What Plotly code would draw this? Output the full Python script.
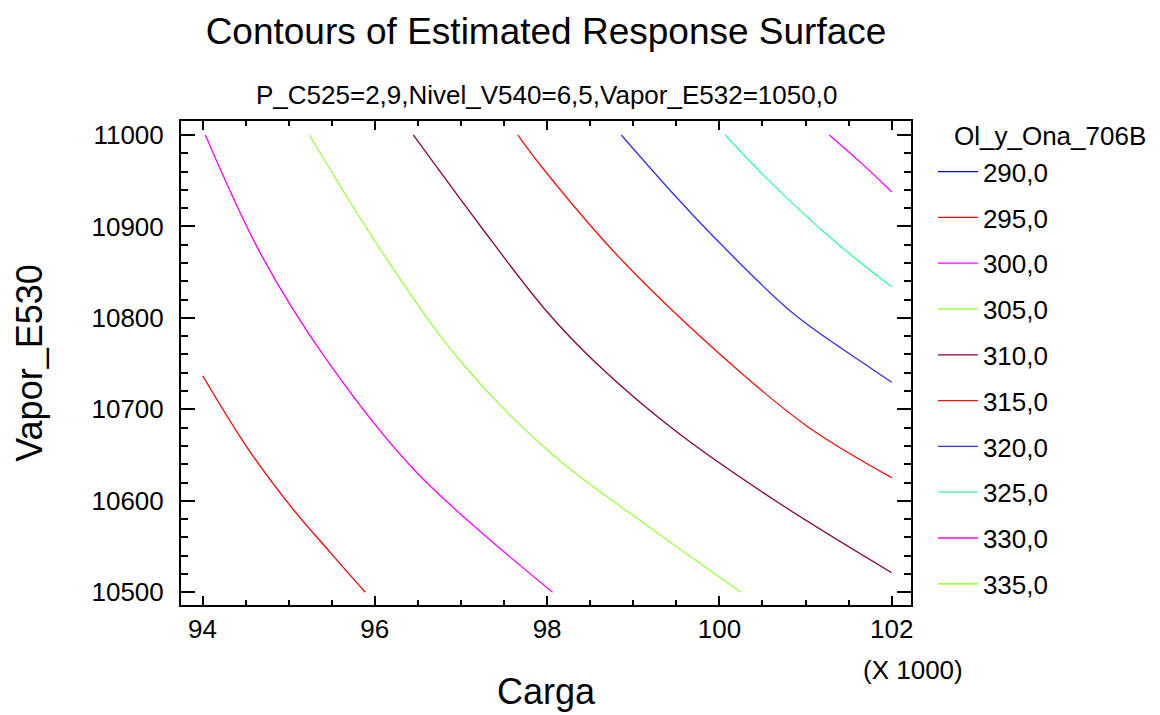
import plotly.graph_objects as go

# Contour levels and colours shown in the legend
levels = [290.0, 295.0, 300.0, 305.0, 310.0, 315.0, 320.0, 325.0, 330.0, 335.0]
level_colors = ["#0000FF", "#FF0000", "#FF00FF", "#99FF44", "#880044",
                "#FF1010", "#3030FF", "#33FF99", "#FF00FF", "#80FF00"]
legend_heading = "Ol_y_Ona_706B"

# Contour lines (Carga in thousands, Vapor_E530)
c295_x = [94.002, 94.525, 95.027, 95.492, 95.890]
c295_y = [10736.8, 10657.4, 10593.6, 10542.6, 10500.0]

c300_x = [94.033, 94.679, 95.442, 96.459, 98.065]
c300_y = [11000.0, 10869.5, 10754.0, 10633.7, 10500.0]

c305_x = [95.240, 96.107, 97.012, 98.045, 99.153, 100.251]
c305_y = [11000.0, 10868.8, 10750.7, 10651.9, 10573.5, 10500.0]

c310_x = [96.447, 97.217, 97.987, 98.568, 99.477, 100.637, 102.000]
c310_y = [11000.0, 10901.6, 10808.1, 10750.7, 10677.4, 10600.9, 10521.4]

c315_x = [97.659, 97.929, 98.858, 100.121, 101.025, 102.000]
c315_y = [11000.0, 10966.1, 10864.1, 10750.7, 10681.1, 10625.3]

c320_x = [98.861, 99.477, 100.019, 100.869, 101.721, 102.000]
c320_y = [11000.0, 10934.4, 10880.5, 10803.9, 10747.4, 10729.6]

c325_x = [100.068, 100.561, 101.334, 102.000]
c325_y = [11000.0, 10951.5, 10884.0, 10834.0]

c330_x = [101.276, 101.644, 102.000]
c330_y = [11000.0, 10969.5, 10938.0]

curves = {
    290.0: ([None], [None]),
    295.0: (c295_x, c295_y),
    300.0: (c300_x, c300_y),
    305.0: (c305_x, c305_y),
    310.0: (c310_x, c310_y),
    315.0: (c315_x, c315_y),
    320.0: (c320_x, c320_y),
    325.0: (c325_x, c325_y),
    330.0: (c330_x, c330_y),
    335.0: ([None], [None]),
}

x_ticks = [94, 96, 98, 100, 102]
FONT = "Arial, Liberation Sans, sans-serif"

fig = go.Figure()
for lev, col in zip(levels, level_colors):
    xs, ys = curves[lev]
    fig.add_trace(go.Scatter(
        x=xs, y=ys, mode="lines",
        line=dict(color=col, width=1.3, shape="spline", smoothing=1.0),
        name=f"{lev:.1f}".replace(".", ","),
        legendgroup=str(lev), showlegend=True, hoverinfo="skip",
    ))

fig.update_layout(
    width=1160, height=715,
    margin=dict(l=173, r=257, t=113, b=118),
    paper_bgcolor="white", plot_bgcolor="white",
    font=dict(family=FONT, size=26, color="black"),
    title=dict(text="Contours of Estimated Response Surface",
               font=dict(size=37, family=FONT, color="black"),
               x=0.5, xref="paper", y=1 - 23 / 715, yref="container",
               xanchor="center", yanchor="middle"),
    legend=dict(
        font=dict(size=26), x=1.03, xanchor="left", y=0.9438, yanchor="top",
        tracegroupgap=9, itemwidth=40, bgcolor="rgba(0,0,0,0)",
        maxheight=700,
    ),
    showlegend=True,
)

fig.update_xaxes(
    range=[93.7504, 102.224], tickvals=x_ticks, ticktext=[str(v) for v in x_ticks],
    showgrid=False, zeroline=False,
    showline=True, linecolor="black", linewidth=2, mirror="ticks",
    ticks="inside", ticklen=9, tickwidth=2, tickcolor="black",
    minor=dict(dtick=0.5, tick0=94, ticks="inside", ticklen=5, tickwidth=2, tickcolor="black", showgrid=False),
    tickfont=dict(size=26), ticklabelstandoff=0,
    title=dict(text="Carga", font=dict(size=36), standoff=36),
)
fig.update_yaxes(
    range=[10486.1, 11015.3], dtick=100, tick0=10500, tickformat="d",
    showgrid=False, zeroline=False,
    showline=True, linecolor="black", linewidth=2, mirror="ticks",
    ticks="inside", ticklen=14, tickwidth=2, tickcolor="black",
    minor=dict(dtick=20, tick0=10500, ticks="inside", ticklen=7, tickwidth=2, tickcolor="black", showgrid=False),
    tickfont=dict(size=26), ticklabelstandoff=10,
    title=dict(text="Vapor_E530", font=dict(size=36), standoff=38),
)

fig.add_annotation(text="P_C525=2,9,Nivel_V540=6,5,Vapor_E532=1050,0",
                   xref="paper", yref="paper", x=0.5, y=(597 - 87) / 484,
                   xanchor="center", yanchor="middle", showarrow=False,
                   font=dict(size=26))
fig.add_annotation(text="(X 1000)", xref="paper", yref="paper",
                   x=(905 - 173) / 730, y=(597 - 662) / 484,
                   xanchor="center", yanchor="middle", showarrow=False,
                   font=dict(size=26))
fig.add_annotation(text=legend_heading, xref="paper", yref="paper",
                   x=(944 - 173) / 730, y=(597 - 128) / 484,
                   xanchor="left", yanchor="middle", showarrow=False,
                   font=dict(size=26))

fig.write_html("out.html")
